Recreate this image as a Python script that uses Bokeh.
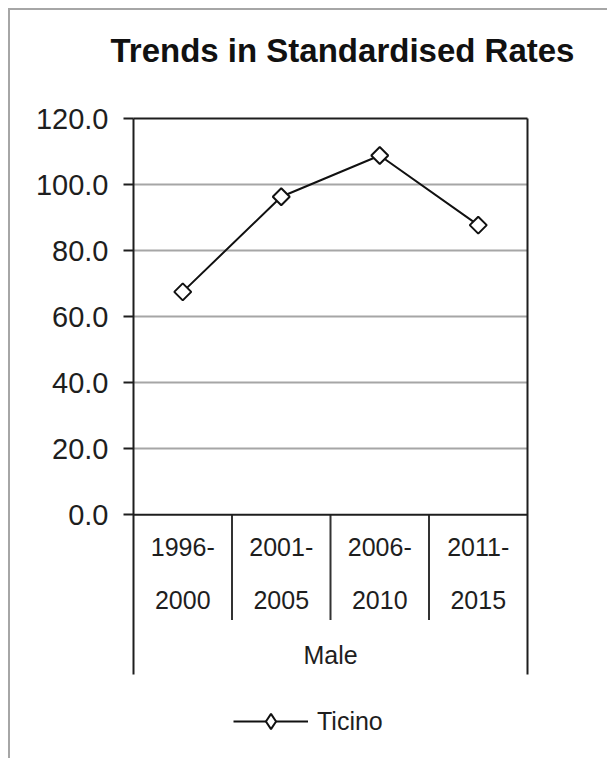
from bokeh.plotting import figure
from bokeh.layouts import column
from bokeh.models import (Range1d, LinearAxis, FixedTicker, NumeralTickFormatter,
                          Span, Legend, LegendItem)
from bokeh.core.properties import value
from bokeh.embed import file_html
from bokeh.resources import INLINE
import numpy as np

# ---------------- data ----------------
title_text = "Trends in Standardised Rates"
periods = ["1996-2000", "2001-2005", "2006-2010", "2011-2015"]
group_label = "Male"
series_name = "Ticino"
ticino = [67.5, 96.3, 108.8, 87.7]
y_ticks = [0, 20, 40, 60, 80, 100, 120]
grid_ticks = [20, 40, 60, 80, 100]

# ---------------- layout constants (data units of y) ----------------
Y_TOP = 120
Y_BOTTOM = -73.2          # frame extends below the value axis for the category labels + legend
BRACKET_BOTTOM = -48.3
DIV_BOTTOM = -31.9
LINE1_Y = -9.9
LINE2_Y = -25.7
GROUP_Y = -42.5

DARK = "#1e1e1e"
GRID = "#a6a6a6"
FONT = "Liberation Sans"

n = len(periods)
xs = [i + 0.5 for i in range(n)]

p = figure(frame_width=392, frame_height=636,
           x_range=Range1d(0, n), y_range=Range1d(Y_BOTTOM, Y_TOP),
           output_backend="svg", toolbar_location=None,
           min_border_left=123, min_border_right=82,
           min_border_top=108, min_border_bottom=4,
           x_axis_location=None, y_axis_location="left",
           title=title_text)
p.styles = {"border-left": "2px solid #a6a6a6", "border-top": "2px solid #a6a6a6"}
p.outline_line_color = None
p.background_fill_color = "white"
p.border_fill_color = "white"

# title
p.title.align = "left"
p.title.offset = -23
p.title.text_font = FONT
p.title.text_font_style = "bold"
p.title.text_font_size = "33px"
p.title.text_color = "#111111"
p.title.standoff = 10

# y axis
ya = p.yaxis[0]
ya.ticker = FixedTicker(ticks=y_ticks)
ya.formatter = NumeralTickFormatter(format="0.0")
ya.bounds = (BRACKET_BOTTOM, Y_TOP)
ya.major_label_text_font = FONT
ya.major_label_text_font_size = "29px"
ya.major_label_text_color = DARK
ya.major_tick_out = 10
ya.major_tick_in = 0
ya.major_tick_line_width = 2
ya.major_tick_line_color = DARK
ya.minor_tick_line_color = None
ya.axis_line_width = 2
ya.axis_line_color = DARK
ya.major_label_standoff = 15

# right & top border lines as bare axes (the top one also spaces the title)
ra = LinearAxis(ticker=FixedTicker(ticks=[]), major_tick_out=0, major_tick_in=0,
                minor_tick_line_color=None, major_label_text_font_size="0px",
                bounds=(BRACKET_BOTTOM, Y_TOP),
                axis_line_width=2, axis_line_color=DARK)
p.add_layout(ra, "right")
ta = LinearAxis(ticker=FixedTicker(ticks=[0]), major_tick_out=45, major_tick_in=0,
                major_tick_line_color=None, major_label_standoff=5,
                major_label_overrides={0: ""},
                minor_tick_line_color=None,
                axis_line_width=2, axis_line_color=DARK)
p.add_layout(ta, "above")

# grid
p.ygrid.ticker = FixedTicker(ticks=grid_ticks)
p.ygrid.grid_line_color = GRID
p.ygrid.grid_line_width = 2
p.xgrid.visible = False

# category axis (Excel-style)
p.add_layout(Span(location=0, dimension="width", line_color=DARK, line_width=2))
bounds = list(range(1, n))
p.segment(x0=bounds, y0=[0] * len(bounds), x1=bounds, y1=[DIV_BOTTOM] * len(bounds),
          line_color="#333333", line_width=2)
top_lines = [pr.split("-")[0] + "-" for pr in periods]
bottom_lines = [pr.split("-")[1] for pr in periods]
p.text(x=xs, y=[LINE1_Y] * n, text=top_lines, text_align="center", text_baseline="middle",
       text_font=value(FONT), text_font_size=value("25px"), text_color=DARK)
p.text(x=xs, y=[LINE2_Y] * n, text=bottom_lines, text_align="center", text_baseline="middle",
       text_font=value(FONT), text_font_size=value("25px"), text_color=DARK)
p.text(x=[n / 2], y=[GROUP_Y], text=[group_label], text_align="center", text_baseline="middle",
       text_font=value(FONT), text_font_size=value("25px"), text_color=DARK)

# series
r_line = p.line(xs, ticino, line_color="#111111", line_width=2)
# diamond glyph used for the legend swatch (legend markers are never rotated);
# drawn first so the rotated squares cover it exactly
r_swatch = p.scatter(xs, ticino, marker="diamond", size=15,
                     fill_color="white", line_color="#111111", line_width=2)
r_mk = p.scatter(xs, ticino, marker="square", size=12, angle=np.pi / 4,
                 fill_color="white", line_color="#111111", line_width=2)

legend = Legend(items=[LegendItem(label=series_name, renderers=[r_line, r_swatch])],
                location=(100, 16), orientation="horizontal",
                glyph_width=75, glyph_height=38, label_height=38, label_standoff=9,
                label_text_font=FONT, label_text_font_size="25px",
                label_text_color=DARK, border_line_color=None,
                background_fill_alpha=0, padding=0, margin=0, spacing=0)
p.add_layout(legend, "center")

root = column(p, styles={"padding-left": "8px", "padding-top": "8px"})
open("out.html", "w").write(file_html(root, INLINE))
